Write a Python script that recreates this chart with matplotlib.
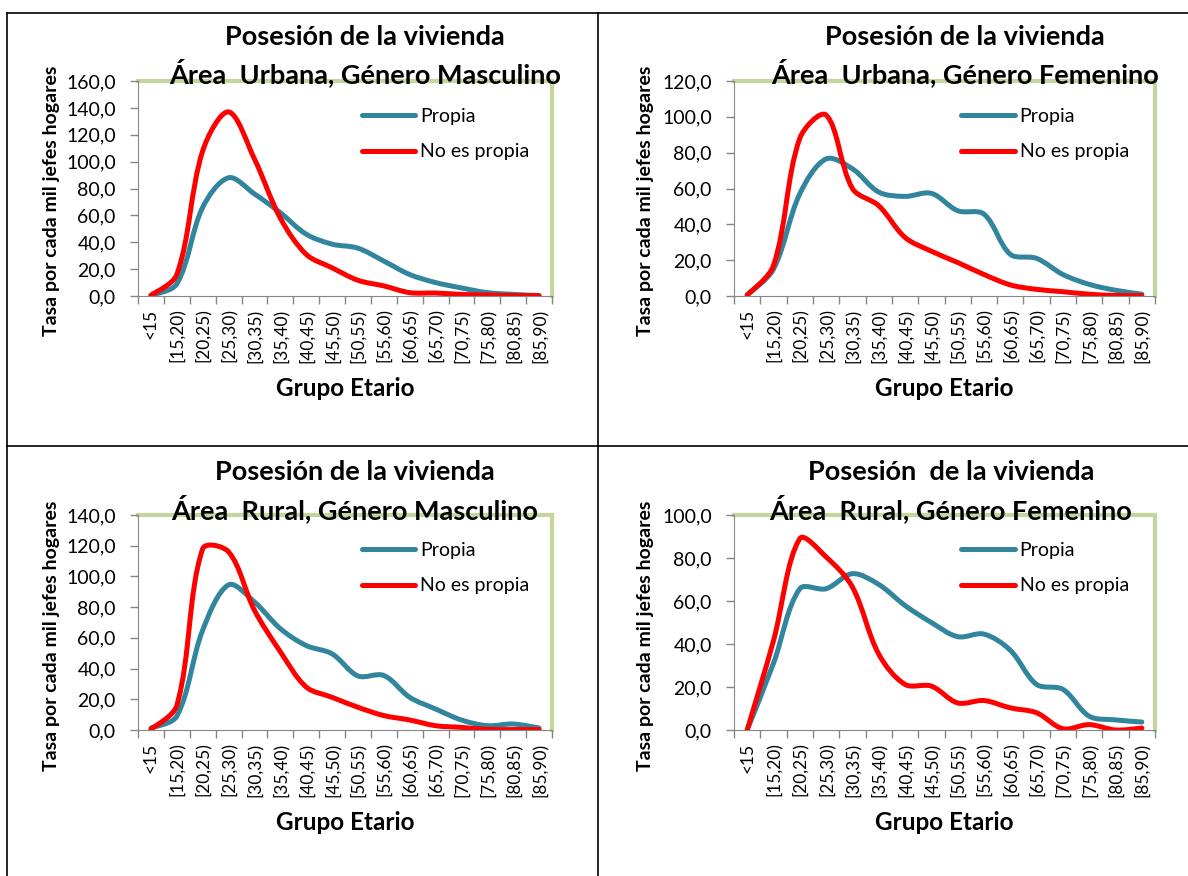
import numpy as np
import matplotlib
matplotlib.use("Agg")
import matplotlib.pyplot as plt
from matplotlib.path import Path
from matplotlib.patches import PathPatch
from matplotlib.lines import Line2D
from matplotlib.ticker import FuncFormatter, MultipleLocator, FixedLocator

plt.rcParams['font.family'] = ['Lato', 'DejaVu Sans']

# Grupos de edad (eje x)
grupos = ['<15', '[15,20)', '[20,25)', '[25,30)', '[30,35)', '[35,40)', '[40,45)', '[45,50)',
          '[50,55)', '[55,60)', '[60,65)', '[65,70)', '[70,75)', '[75,80)', '[80,85)', '[85,90)']

# Tasas (por cada mil jefes de hogar)
urb_masc_propia = [0.5, 9, 66, 88, 76, 62, 46, 38.6, 35.6, 26, 16, 10, 6, 2.5, 1.2, 0.3]
urb_masc_no_propia = [0.5, 16, 108, 137, 102, 58, 31, 21, 11.7, 7.5, 2.5, 2.2, 1.2, 0.7, 0.3, 0.2]

urb_fem_propia = [0.5, 15, 57, 76.5, 71, 58, 55.6, 57.3, 47.6, 45.7, 23.3, 21, 12, 6.5, 3.2, 1]
urb_fem_no_propia = [0.5, 17, 88, 101, 60, 50.4, 32.7, 25, 18.7, 12, 6.2, 3.7, 2.4, 1, 0.3, 0.2]

rur_masc_propia = [1.3, 9, 65, 94.5, 83.4, 66, 55, 49.6, 35.2, 35.5, 21.3, 13.7, 6.5, 2.8, 3.9, 1.3]
rur_masc_no_propia = [0.4, 16, 118, 116, 78, 51, 28, 21.3, 14.8, 9.4, 6.5, 2.8, 1.7, 0.4, 0.3, 0.3]

rur_fem_propia = [0, 31, 65.7, 65.7, 72.7, 67.7, 57.9, 50, 43.4, 44.6, 37.1, 21.2, 18.9, 6.4, 4.7, 3.7]
rur_fem_no_propia = [0, 41.5, 89, 80.5, 66.5, 35.3, 21.2, 20.4, 12.6, 13.7, 10.3, 8, 0.6, 2.5, 0, 0.9]

color_propia = '#31859C'
color_no_propia = '#FF0000'
color_marco = '#C3D69B'
color_eje = '#868686'

W, H = 1188, 876
fig = plt.figure(figsize=(W / 100, H / 100), dpi=100)


# Curva suavizada tipo Excel: tangente de P[i-1] a P[i+1], longitud del control
# repartida segun la distancia (en pixeles) de los tramos vecinos
def smooth_path(y, sx, sy):
    pts = np.column_stack([np.arange(len(y)), np.asarray(y, dtype=float)])
    scale = np.array([sx, sy])
    n = len(pts)
    dist = [np.hypot(*((pts[i + 1] - pts[i]) * scale)) for i in range(n - 1)]
    verts = [pts[0]]
    codes = [Path.MOVETO]
    for i in range(n - 1):
        p0 = pts[max(i - 1, 0)]
        p1 = pts[i]
        p2 = pts[i + 1]
        p3 = pts[min(i + 2, n - 1)]
        d_prev = dist[i - 1] if i > 0 else dist[i]
        d_next = dist[i + 1] if i + 1 < n - 1 else dist[i]
        d = dist[i]
        c1 = p1 + (p2 - p0) * (d / (d_prev + d)) / 3
        c2 = p2 - (p3 - p1) * (d / (d + d_next)) / 3
        verts += [c1, c2, p2]
        codes += [Path.CURVE4] * 3
    return Path(verts, codes)


def fmt_coma(v, pos):
    return f"{v:.1f}".replace('.', ',')


def panel(px_left, px_top, px_right, px_bottom, linea1, linea2, propia, no_propia, ymax,
          title_x, title_y1, title_y2, label_y):
    ax = fig.add_axes([px_left / W, 1 - px_bottom / H, (px_right - px_left) / W,
                       (px_bottom - px_top) / H])
    sx = (px_right - px_left) / len(grupos)
    sy = (px_bottom - px_top) / ymax
    for serie, col in ((propia, color_propia), (no_propia, color_no_propia)):
        ax.add_patch(PathPatch(smooth_path(serie, sx, sy), fill=False, edgecolor=col, lw=3.6,
                               capstyle='round', joinstyle='round'))

    ax.set_xlim(-0.5, len(grupos) - 0.5)
    ax.set_ylim(0, ymax)

    # Eje x: etiquetas en el centro, marcas en los limites
    ax.xaxis.set_major_locator(FixedLocator(np.arange(len(grupos))))
    ax.set_xticklabels(grupos, rotation=90, fontsize=12.5)
    ax.xaxis.set_minor_locator(FixedLocator(np.arange(len(grupos) + 1) - 0.5))
    ax.tick_params(axis='x', which='major', length=0, pad=9)
    ax.tick_params(axis='x', which='minor', length=6, width=1, color=color_eje, direction='out')

    ax.yaxis.set_major_locator(MultipleLocator(20))
    ax.yaxis.set_major_formatter(FuncFormatter(fmt_coma))
    ax.tick_params(axis='y', length=6, width=1, color=color_eje, direction='out',
                   labelsize=14, pad=10)

    ax.spines['top'].set_color(color_marco)
    ax.spines['right'].set_color(color_marco)
    ax.spines['top'].set_linewidth(3)
    ax.spines['right'].set_linewidth(3)
    ax.spines['left'].set_color(color_eje)
    ax.spines['bottom'].set_color(color_eje)
    for s in ax.spines.values():
        s.set_zorder(0.5)
    ax.spines['left'].set_zorder(3)
    ax.spines['bottom'].set_zorder(3)

    ax.text(title_x, title_y1, linea1, transform=ax.transAxes, ha='center', va='center',
            fontsize=19.5, fontweight='bold')
    ax.text(title_x, title_y2, linea2, transform=ax.transAxes, ha='center', va='center',
            fontsize=19.5, fontweight='bold', zorder=5)
    ax.text(-0.21, label_y, 'Tasa por cada mil jefes hogares', transform=ax.transAxes,
            rotation=90, ha='center', va='center', fontsize=14, fontweight='bold')
    ax.text(0.5, -0.43, 'Grupo Etario', transform=ax.transAxes, ha='center', va='center',
            fontsize=17.5, fontweight='bold')

    handles = [Line2D([], [], color=color_propia, lw=3.6, solid_capstyle='round'),
               Line2D([], [], color=color_no_propia, lw=3.6, solid_capstyle='round')]
    ax.legend(handles, ['Propia', 'No es propia'], loc='upper left',
              bbox_to_anchor=(0.54, 0.875), frameon=False, fontsize=14,
              handlelength=2.75, handletextpad=0.25, labelspacing=0.95, borderpad=0,
              borderaxespad=0)
    return ax


panel(138, 81, 552, 296, 'Posesión de la vivienda', 'Área  Urbana, Género Masculino',
      urb_masc_propia, urb_masc_no_propia, 160, 0.548, 1.206, 1.037, 0.444)
panel(734, 81, 1155, 296, 'Posesión de la vivienda', 'Área  Urbana, Género Femenino',
      urb_fem_propia, urb_fem_no_propia, 120, 0.549, 1.206, 1.037, 0.444)
panel(138, 515, 552, 730, 'Posesión de la vivienda', 'Área  Rural, Género Masculino',
      rur_masc_propia, rur_masc_no_propia, 140, 0.524, 1.201, 1.028, 0.44)
panel(734, 515, 1155, 730, 'Posesión  de la vivienda', 'Área  Rural, Género Femenino',
      rur_fem_propia, rur_fem_no_propia, 100, 0.515, 1.201, 1.028, 0.44)

# Bordes de la tabla
fig.add_artist(Line2D([7 / W, 1], [1 - 13 / H, 1 - 13 / H], color='black', lw=1.2))
fig.add_artist(Line2D([7 / W, 1], [1 - 446 / H, 1 - 446 / H], color='black', lw=1.2))
fig.add_artist(Line2D([7 / W, 7 / W], [0, 1 - 13 / H], color='black', lw=1.2))
fig.add_artist(Line2D([598 / W, 598 / W], [0, 1 - 13 / H], color='black', lw=1.2))

fig.savefig('out.png', dpi=100)
